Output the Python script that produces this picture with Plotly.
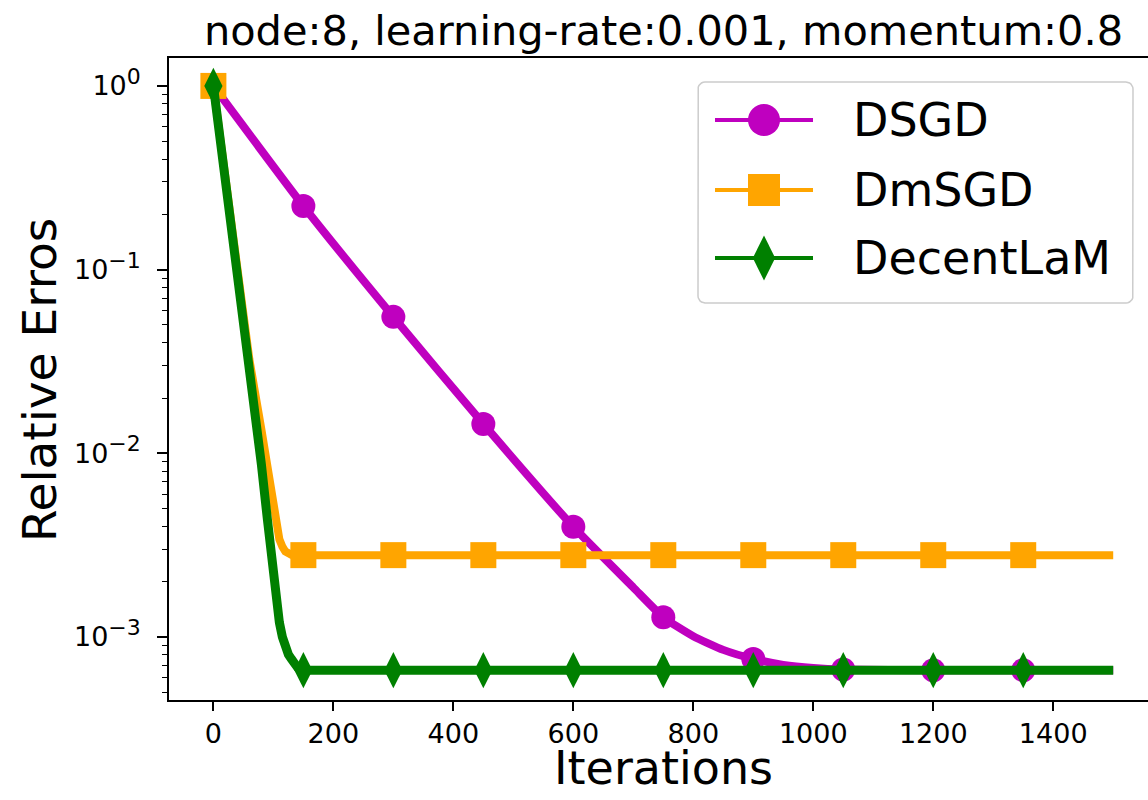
import math
import plotly.graph_objects as go

# ---------------- data ----------------
DSGD_ITERS = [0, 150, 300, 450, 600, 700, 750, 800, 850, 900, 950, 1000, 1050, 1200, 1350, 1500]
DSGD_ERR = [1.0, 0.222, 0.0553, 0.01445, 0.00398, 0.00186, 0.00128, 0.00101, 0.000851,
            0.00076, 0.000705, 0.000678, 0.000665, 0.00066, 0.00066, 0.00066]

DMSGD_ITERS = [0, 20, 40, 60, 80, 90, 100, 105, 110, 115, 120, 130, 140, 150, 300, 450, 600,
               750, 900, 1050, 1200, 1350, 1500]
DMSGD_ERR = [1.0, 0.316, 0.1, 0.0324, 0.0135, 0.0083, 0.0048, 0.0039, 0.0034, 0.0031,
             0.00292, 0.0028, 0.00279, 0.00279, 0.00279, 0.00279, 0.00279, 0.00279,
             0.00279, 0.00279, 0.00279, 0.00279, 0.00279]

DLAM_ITERS = [0, 20, 40, 60, 80, 90, 100, 105, 110, 115, 120, 125, 130, 140, 150, 300, 450,
              600, 750, 900, 1050, 1200, 1350, 1500]
DLAM_ERR = [1.0, 0.316, 0.1, 0.0324, 0.0087, 0.00437, 0.002, 0.00151, 0.0012, 0.001,
            0.00087, 0.000804, 0.00076, 0.000684, 0.00066, 0.00066, 0.00066, 0.00066,
            0.00066, 0.00066, 0.00066, 0.00066, 0.00066, 0.00066]

MARKER_ITERS = [0, 150, 300, 450, 600, 750, 900, 1050, 1200, 1350]

SERIES_NAMES = ["DSGD", "DmSGD", "DecentLaM"]
X_TICKS = [0, 200, 400, 600, 800, 1000, 1200, 1400]
Y_TICKS = [1e-3, 1e-2, 1e-1, 1.0]
Y_EXPONENTS = ["−3", "−2", "−1", "0"]
Y_MINOR = [m * 10.0 ** e for e in (-4, -3, -2, -1) for m in range(2, 10)]
TITLE = "node:8, learning-rate:0.001, momentum:0.8"
X_LABEL = "Iterations"
Y_LABEL = "Relative Erros"

# ---------------- styling ----------------
FONT = "DejaVu Sans"
COLORS = ["#BF00BF", "#FFA500", "#008000"]
SYMBOLS = ["circle", "square", "diamond-tall"]
MSIZE = [24, 26, 26]
LWIDTH = [8, 8, 9]
SHAPES = ["spline", "linear", "linear"]

W, H = 1148, 800
L, R, T, B = 169, 0, 58, 100
PX0, PX1 = L, W - R
PY0, PY1 = T, H - B

fig = go.Figure()

series = [(DSGD_ITERS, DSGD_ERR), (DMSGD_ITERS, DMSGD_ERR), (DLAM_ITERS, DLAM_ERR)]
for i, (xs, ys) in enumerate(series):
    fig.add_trace(go.Scatter(
        x=xs, y=ys, mode="lines", name=SERIES_NAMES[i],
        line=dict(color=COLORS[i], width=LWIDTH[i], shape=SHAPES[i], smoothing=0.5),
        showlegend=False, hoverinfo="skip"))
    lookup = dict(zip(xs, ys))
    mx = [v for v in MARKER_ITERS if v in lookup]
    my = [lookup[v] for v in mx]
    fig.add_trace(go.Scatter(
        x=mx, y=my, mode="markers", name=SERIES_NAMES[i],
        marker=dict(color=COLORS[i], symbol=SYMBOLS[i], size=MSIZE[i], line=dict(width=0)),
        showlegend=False, cliponaxis=False, hoverinfo="skip"))

# ---------------- manual legend (pixel overlay axes) ----------------
LEG_X0, LEG_X1, LEG_Y0, LEG_Y1 = 698, 1133, 82, 303
ROWS_Y = [120, 190, 258]
LINE_X0, LINE_X1, MARK_X, TEXT_X = 715, 813, 764, 851
LEG_MSIZE = [32, 32, 32]


def px2paper_x(px):
    return (px - PX0) / (PX1 - PX0)


def px2paper_y(py):
    return (PY1 - py) / (PY1 - PY0)


rr = 7
corners = [(LEG_X1 - rr, LEG_Y0 + rr, -90, 0), (LEG_X1 - rr, LEG_Y1 - rr, 0, 90),
           (LEG_X0 + rr, LEG_Y1 - rr, 90, 180), (LEG_X0 + rr, LEG_Y0 + rr, 180, 270)]
bx, by = [], []
for cx, cy, a0, a1 in corners:
    for k in range(7):
        a = math.radians(a0 + (a1 - a0) * k / 6)
        bx.append(cx + rr * math.cos(a))
        by.append(cy + rr * math.sin(a))
bx.append(bx[0])
by.append(by[0])
fig.add_trace(go.Scatter(
    x=bx, y=by, mode="lines", fill="toself", fillcolor="rgba(255,255,255,0.85)",
    line=dict(color="#cccccc", width=1.5), xaxis="x2", yaxis="y2",
    showlegend=False, hoverinfo="skip", cliponaxis=False))

for i, ry in enumerate(ROWS_Y):
    fig.add_trace(go.Scatter(
        x=[LINE_X0, LINE_X1], y=[ry, ry], mode="lines", xaxis="x2", yaxis="y2",
        line=dict(color=COLORS[i], width=4), showlegend=False, hoverinfo="skip",
        cliponaxis=False))
    fig.add_trace(go.Scatter(
        x=[MARK_X], y=[ry], mode="markers", xaxis="x2", yaxis="y2",
        marker=dict(color=COLORS[i], symbol=SYMBOLS[i], size=LEG_MSIZE[i], line=dict(width=0)),
        showlegend=False, hoverinfo="skip", cliponaxis=False))
    fig.add_annotation(x=px2paper_x(TEXT_X), y=px2paper_y(ry), xref="paper", yref="paper",
                       text=SERIES_NAMES[i], showarrow=False, xanchor="left", yanchor="middle",
                       font=dict(family=FONT, size=46, color="black"))

# axis titles
fig.add_annotation(x=px2paper_x(663.5), y=px2paper_y(768), xref="paper", yref="paper",
                   text=X_LABEL, showarrow=False, xanchor="center", yanchor="middle",
                   font=dict(family=FONT, size=46, color="black"))
fig.add_annotation(x=px2paper_x(40), y=px2paper_y(380), xref="paper", yref="paper",
                   text=Y_LABEL, showarrow=False, xanchor="center", yanchor="middle",
                   textangle=-90, font=dict(family=FONT, size=47, color="black"))

y_tick_text = ["10<sup><span style='font-size:22px'>%s</span></sup>" % e for e in Y_EXPONENTS]

fig.update_layout(
    width=W, height=H,
    margin=dict(l=L, r=R, t=T, b=B, autoexpand=False),
    plot_bgcolor="white", paper_bgcolor="white",
    showlegend=False,
    font=dict(family=FONT, color="black"),
    title=dict(text=TITLE, x=663.5 / W, xref="container", xanchor="center",
               y=1 - 30 / H, yref="container", yanchor="middle", automargin=False,
               font=dict(family=FONT, size=41.5, color="black")),
    xaxis=dict(range=[-74, 1558], tickvals=X_TICKS, ticktext=[str(v) for v in X_TICKS],
               showline=True, linecolor="black", linewidth=1.6, mirror=True,
               ticks="outside", ticklen=9, tickwidth=1.6, tickcolor="black",
               tickfont=dict(family=FONT, size=27, color="black"), automargin=False,
               showgrid=False, zeroline=False, ticklabelstandoff=0),
    yaxis=dict(type="log", range=[-3.343, 0.152], tickvals=Y_TICKS, ticktext=y_tick_text,
               showline=True, linecolor="black", linewidth=1.6, mirror=False,
               ticks="outside", ticklen=10, tickwidth=1.6, tickcolor="black",
               tickfont=dict(family=FONT, size=27, color="black"), automargin=False,
               showgrid=False, zeroline=False, ticklabelstandoff=11,
               minor=dict(tickvals=Y_MINOR, ticks="outside", ticklen=5, tickwidth=1.2,
                          tickcolor="black", showgrid=False)),
    xaxis2=dict(overlaying="x", range=[PX0, PX1], visible=False, fixedrange=True,
                automargin=False),
    yaxis2=dict(overlaying="y", range=[PY1, PY0], visible=False, fixedrange=True,
                automargin=False),
)

fig.write_html("out.html", config={"displayModeBar": False},
               post_script="document.body.style.margin='0px';")
